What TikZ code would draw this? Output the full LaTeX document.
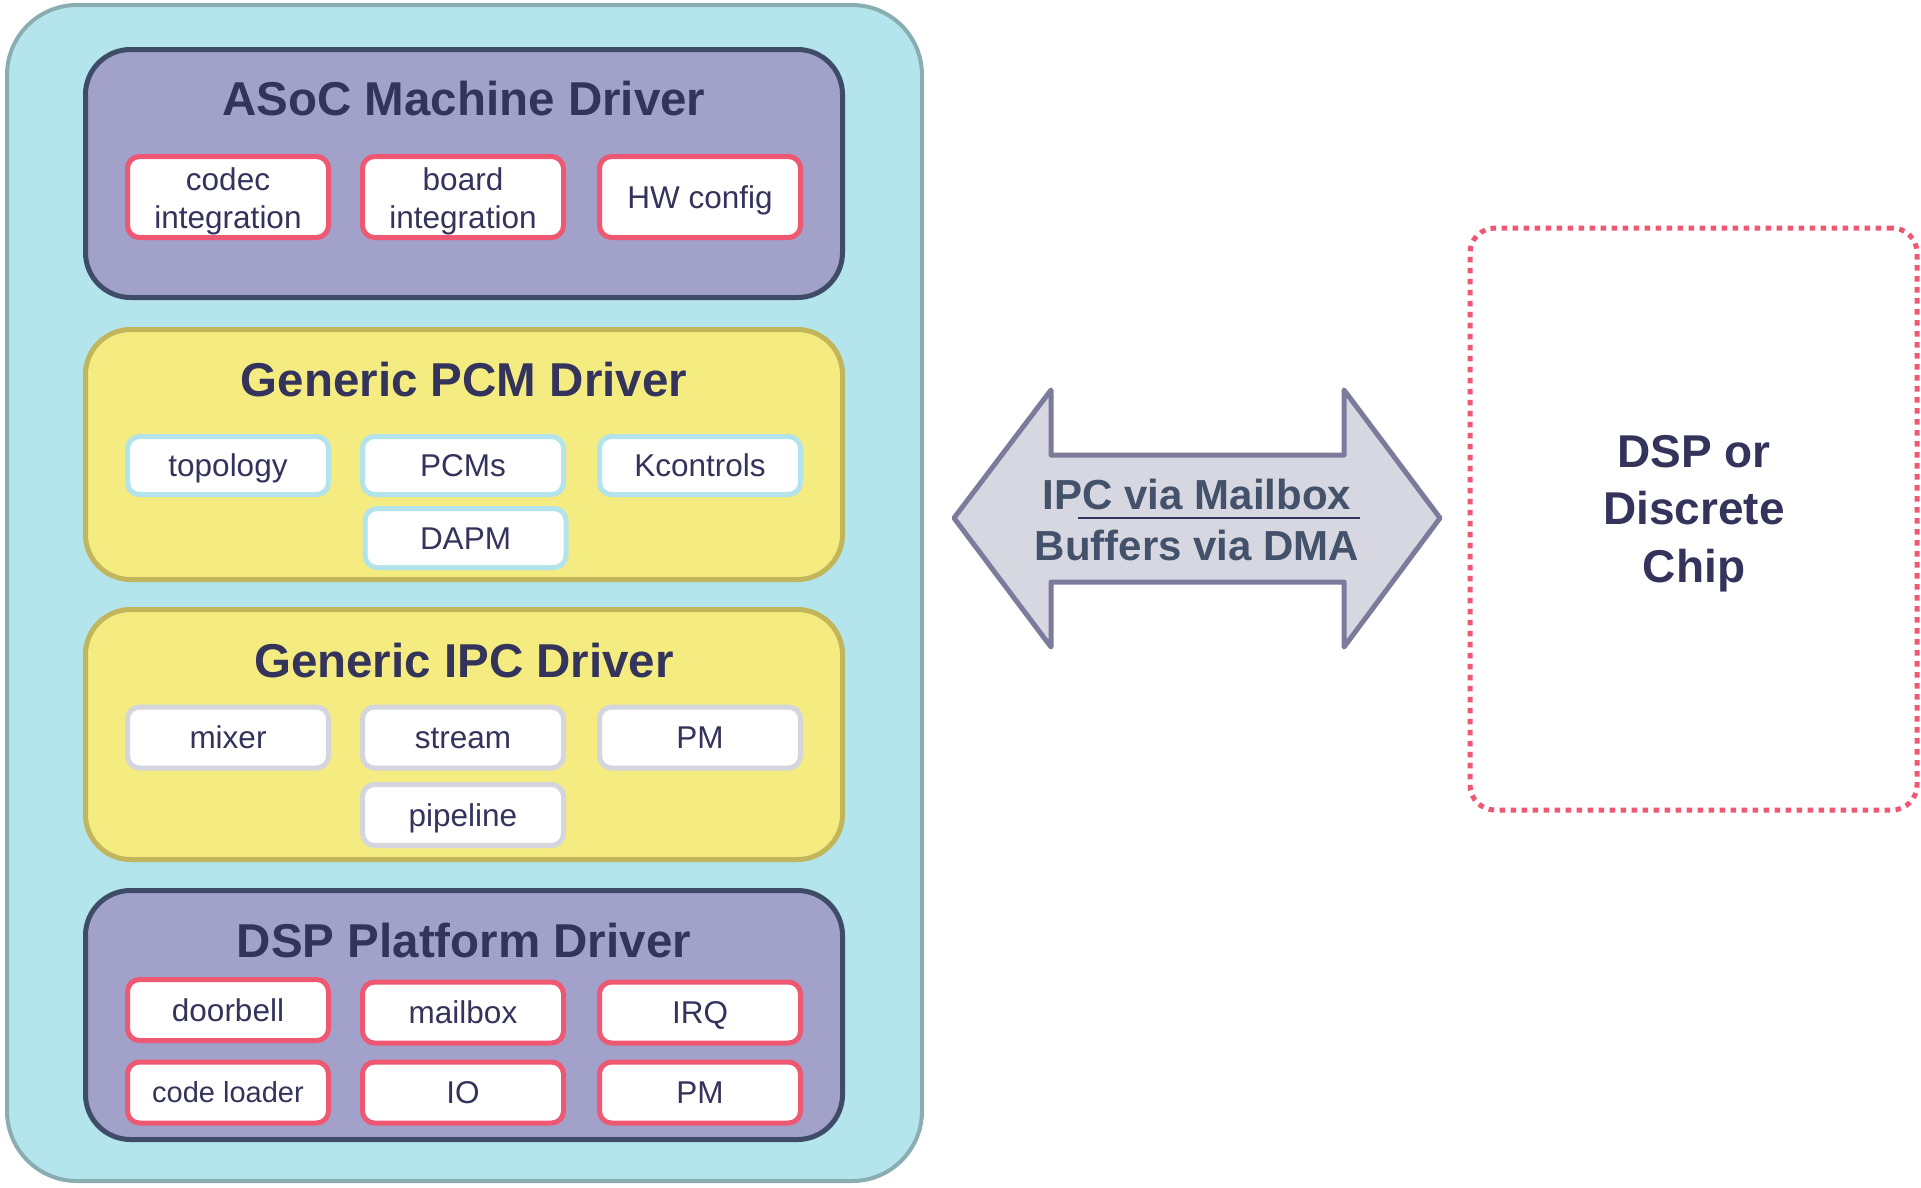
\documentclass[tikz,border=0pt]{standalone}
\usepackage{fontspec}
\setmainfont{Liberation Sans}
\definecolor{cyanfill}{HTML}{B4E4EC}
\definecolor{cyanline}{HTML}{8AADB2}
\definecolor{purplefill}{HTML}{A2A1C9}
\definecolor{purpleline}{HTML}{3E4C67}
\definecolor{yellowfill}{HTML}{F4EB81}
\definecolor{yellowline}{HTML}{C2B65C}
\definecolor{redline}{HTML}{EF5872}
\definecolor{bluesub}{HTML}{B3E3EB}
\definecolor{graysub}{HTML}{D5D5DD}
\definecolor{textdark}{HTML}{33335B}
\definecolor{arrowfill}{HTML}{D6D7E1}
\definecolor{arrowline}{HTML}{7C7B9C}
\definecolor{arrowtext}{HTML}{43516A}
\begin{document}
\begin{tikzpicture}[x=1pt,y=-1pt,
  outerbox/.style={draw=cyanline, fill=cyanfill, line width=4pt, rounded corners=70pt,
    minimum width=915pt, minimum height=1176pt, inner sep=0pt},
  layer/.style={rounded corners=45pt, line width=5pt, minimum width=757pt, inner sep=0pt},
  purplebox/.style={layer, fill=purplefill, draw=purpleline},
  yellowbox/.style={layer, fill=yellowfill, draw=yellowline},
  title/.style={anchor=base, text=textdark, font=\fontsize{47.5}{52}\selectfont\bfseries, inner sep=0pt},
  subbox/.style={fill=white, rounded corners=12pt, line width=5pt, minimum width=201pt,
    inner sep=0pt, align=center, text=textdark, font=\fontsize{31.5}{37}\selectfont},
  oneline/.style={text height=22.7pt, text depth=0pt},
  redsub/.style={subbox, draw=redline},
  redone/.style={subbox, oneline, draw=redline},
  bluesubbox/.style={subbox, oneline, draw=bluesub},
  graysubbox/.style={subbox, oneline, draw=graysub},
  arrowlabel/.style={anchor=base, text=arrowtext, font=\fontsize{42}{50}\selectfont\bfseries, inner sep=0pt},
  chiplabel/.style={anchor=base, text=textdark, font=\fontsize{46}{57}\selectfont\bfseries, inner sep=0pt},
  chipbox/.style={draw=redline, line width=5pt, dash pattern=on 5.5pt off 5.5pt, rounded corners=25pt,
    minimum width=447pt, minimum height=582pt, inner sep=0pt}
]
\useasboundingbox (0,0) rectangle (1921,1187);

% outer container
\node[outerbox] (outer) at (464.5,593) {};

% ASoC Machine Driver
\node[purplebox, minimum height=248pt] (asoc) at (464,173.5) {};
\node[title] (asoct) at (464,115) {ASoC Machine Driver};
\node[redsub, minimum height=81pt] (codec) at (228,197) {\rule{0pt}{31pt}codec\\[1pt]integration};
\node[redsub, minimum height=81pt] (board) at (463,197) {\rule{0pt}{31pt}board\\[1pt]integration};
\node[redone, minimum height=81pt] (hwcfg) at (700,197) {HW config};

% Generic PCM Driver
\node[yellowbox, minimum height=250pt] (pcm) at (464,454.5) {};
\node[title] (pcmt) at (464,396) {Generic PCM Driver};
\node[bluesubbox, minimum height=58pt] (topo) at (228,465.5) {topology};
\node[bluesubbox, minimum height=58pt] (pcms) at (463,465.5) {PCMs};
\node[bluesubbox, minimum height=58pt] (kctl) at (700,465.5) {Kcontrols};
\node[bluesubbox, minimum height=59pt] (dapm) at (465.5,538) {DAPM};

% Generic IPC Driver
\node[yellowbox, minimum height=250pt] (ipc) at (464,734.5) {};
\node[title] (ipct) at (464,677) {Generic IPC Driver};
\node[graysubbox, minimum height=61pt] (mixer) at (228,737.5) {mixer};
\node[graysubbox, minimum height=61pt] (stream) at (463,737.5) {stream};
\node[graysubbox, minimum height=61pt] (ipcpm) at (700,737.5) {PM};
\node[graysubbox, minimum height=61pt] (pipe) at (463,815) {pipeline};

% DSP Platform Driver
\node[purplebox, minimum height=249pt] (dsp) at (464,1015) {};
\node[title] (dspt) at (464,957) {DSP Platform Driver};
\node[redone, minimum height=61pt] (bell) at (228,1010) {doorbell};
\node[redone, minimum height=61pt] (mbox) at (463,1012.5) {mailbox};
\node[redone, minimum height=61pt] (irq) at (700,1012.5) {IRQ};
\node[redone, minimum height=61pt, font=\fontsize{29}{34}\selectfont, text height=20.9pt] (loader) at (228,1092.5) {code loader};
\node[redone, minimum height=61pt] (io) at (463,1092.5) {IO};
\node[redone, minimum height=61pt] (dsppm) at (700,1092.5) {PM};

% double arrow
\draw[draw=arrowline, fill=arrowfill, line width=5pt, line join=round]
  (954,518) -- (1051,390) -- (1051,455) -- (1344,455) -- (1344,390) -- (1440,518)
  -- (1344,647) -- (1344,582) -- (1051,582) -- (1051,647) -- cycle;
\node[arrowlabel] (ipclabel) at (1197,509) {IPC via Mailbox};
\node[arrowlabel] (dmalabel) at (1197,560) {Buffers via DMA};
\draw[textdark, line width=1.6pt] (1078,518) -- (1360,518);

% DSP or Discrete Chip
\node[chipbox] (chip) at (1693.5,519) {};
\node[chiplabel] (chipa) at (1694,467) {DSP or};
\node[chiplabel] (chipb) at (1694,524) {Discrete};
\node[chiplabel] (chipc) at (1694,582) {Chip};
\end{tikzpicture}
\end{document}
